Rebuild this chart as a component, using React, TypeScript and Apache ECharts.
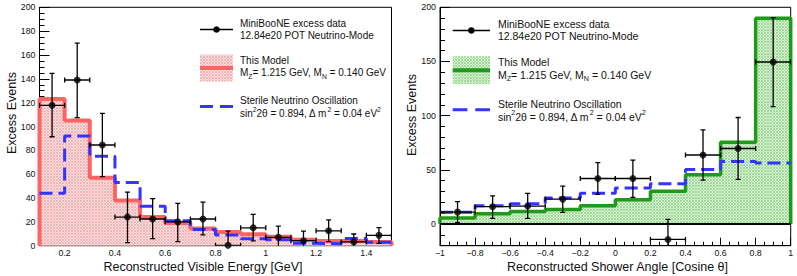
import React, { useEffect, useRef } from "react";
import * as echarts from "echarts";

// ---------- DATA ----------
const energyEdges = [0.1, 0.2, 0.3, 0.4, 0.5, 0.6, 0.7, 0.8, 0.9, 1.0, 1.1, 1.2, 1.3, 1.4, 1.5];
const energyModel = [123, 105, 57, 38, 24, 19, 14.5, 11.5, 9.6, 7.5, 5, 4, 4, 3];
const energySterile = [44, 92, 75, 53, 33, 21, 13.5, 9, 5.8, 5, 2, 1.7, 6, 2.8];
const energyDataX = [0.15, 0.25, 0.35, 0.45, 0.55, 0.65, 0.75, 0.85, 0.95, 1.05, 1.15, 1.25, 1.35, 1.45];
const energyDataY = [117.8, 139, 84.5, 24, 22.4, 20, 22.4, 0.3, 15, 7, 4.2, 12.5, 3.2, 8.7];
const energyDataLo = [91.4, 107.5, 58, 2.5, 6, 3.5, 9, -12, 4, -3, -4, 3.4, -3, 2];
const energyDataHi = [144.5, 170, 111, 45, 39.5, 35.5, 36.5, 12.3, 26.3, 16.5, 12.3, 21.6, 9.8, 15.1];
const energyXErr = 0.05;

const angleEdges = [-1, -0.8, -0.6, -0.4, -0.2, 0, 0.2, 0.4, 0.6, 0.8, 1];
const angleModel = [5.5, 9.5, 11.5, 13.5, 16.8, 22.3, 30.3, 45.4, 75.4, 190];
const angleSterile = [10.8, 16.8, 18.8, 24, 28.3, 33.3, 37.2, 50.3, 57.8, 56.3];
const angleDataX = [-0.9, -0.7, -0.5, -0.3, -0.1, 0.1, 0.3, 0.5, 0.7, 0.9];
const angleDataY = [11, 16, 16.6, 23, 42, 42, -14.2, 63.7, 69.7, 149.5];
const angleDataLo = [1.2, 5.2, 5.2, 10.8, 27.4, 24.6, -33, 40.6, 41.2, 108.3];
const angleDataHi = [20.6, 26, 28.3, 35, 56.6, 59, 4.3, 86.8, 98.3, 190.5];
const angleXErr = 0.1;

// tick values
const energyMajorTicks = [0.2, 0.4, 0.6, 0.8, 1.0, 1.2, 1.4];
const energyMinorStep = 0.05;
const eventsMajorTicksL = [0, 20, 40, 60, 80, 100, 120, 140, 160, 180, 200];
const eventsMinorStepL = 5;
const angleMajorTicks = [-1, -0.8, -0.6, -0.4, -0.2, 0, 0.2, 0.4, 0.6, 0.8, 1];
const angleMinorStep = 0.05;
const eventsMajorTicksR = [0, 50, 100, 150, 200];
const eventsMinorStepR = 10;

const FONT = "'Liberation Sans', Arial, Helvetica, sans-serif";
const TXT = "#111";
const RED = "#ff6464";
const GREEN = "#1f9a1a";
const BLUE = "#3434ff";

function steps(min: number, max: number, step: number): number[] {
  const out: number[] = [];
  const n = Math.round((max - min) / step);
  for (let i = 0; i <= n; i++) out.push(Math.round((min + i * step) * 1000) / 1000);
  return out;
}

function histPoints(edges: number[], vals: number[], closed: boolean): number[][] {
  const pts: number[][] = [];
  if (closed) pts.push([edges[0], 0]);
  vals.forEach((v, i) => pts.push([edges[i], v]));
  pts.push([edges[edges.length - 1], vals[vals.length - 1]]);
  if (closed) pts.push([edges[edges.length - 1], 0]);
  return pts;
}

function makePattern(dark: string, light: string) {
  const c = document.createElement("canvas");
  c.width = 3;
  c.height = 3;
  const ctx = c.getContext("2d")!;
  ctx.fillStyle = dark;
  ctx.fillRect(0, 0, 3, 3);
  ctx.fillStyle = light;
  ctx.fillRect(1, 0, 1, 1);
  ctx.fillRect(0, 1, 1, 1);
  ctx.fillRect(2, 1, 1, 1);
  ctx.fillRect(1, 2, 1, 1);
  return { image: c, repeat: "repeat" } as any;
}

function fmtNum(v: number): string {
  const r = Math.round(v * 100) / 100;
  if (r === 0) return "0";
  return (r < 0 ? "\u2212" : "") + String(Math.abs(r));
}

function errorBarSeries(xIdx: number, yIdx: number, xs: number[], ys: number[], lo: number[], hi: number[], xe: number) {
  return {
    type: "custom",
    xAxisIndex: xIdx,
    yAxisIndex: yIdx,
    clip: true,
    z: 5,
    data: xs.map((x, i) => [x, ys[i], lo[i], hi[i], xe]),
    renderItem: (params: any, api: any) => {
      const x = api.value(0), y = api.value(1), l = api.value(2), h = api.value(3), e = api.value(4);
      const c = api.coord([x, y]);
      const pl = api.coord([x - e, y]);
      const pr = api.coord([x + e, y]);
      const pLo = api.coord([x, l]);
      const pHi = api.coord([x, h]);
      const cap = 2.5;
      const st = { stroke: "#000", lineWidth: 1.3 };
      const ln = (x1: number, y1: number, x2: number, y2: number) => ({ type: "line", shape: { x1, y1, x2, y2 }, style: st });
      return {
        type: "group",
        children: [
          ln(pl[0], c[1], pr[0], c[1]),
          ln(c[0], pLo[1], c[0], pHi[1]),
          ln(pl[0], c[1] - cap, pl[0], c[1] + cap),
          ln(pr[0], c[1] - cap, pr[0], c[1] + cap),
          ln(c[0] - cap, pLo[1], c[0] + cap, pLo[1]),
          ln(c[0] - cap, pHi[1], c[0] + cap, pHi[1]),
        ],
      };
    },
  };
}

function majorX(grid: number, min: number, max: number, ticks: number[]) {
  return {
    type: "value", gridIndex: grid, min, max, position: "bottom",
    axisLine: { show: true, onZero: false, lineStyle: { color: "#000", width: 1 } },
    axisTick: { show: true, inside: true, length: 8, customValues: ticks, lineStyle: { color: "#000", width: 1 } },
    axisLabel: { show: true, customValues: ticks, formatter: fmtNum, fontSize: 8.8, color: TXT, fontFamily: FONT, margin: 3 },
    splitLine: { show: false },
  };
}
function minorX(grid: number, min: number, max: number, ticks: number[]) {
  return {
    type: "value", gridIndex: grid, min, max, position: "bottom",
    axisLine: { show: false, onZero: false },
    axisTick: { show: true, inside: true, length: 4, customValues: ticks, lineStyle: { color: "#000", width: 1 } },
    axisLabel: { show: false },
    splitLine: { show: false },
  };
}
function majorY(grid: number, min: number, max: number, ticks: number[]) {
  return {
    type: "value", gridIndex: grid, min, max, position: "left",
    axisLine: { show: true, onZero: false, lineStyle: { color: "#000", width: 1 } },
    axisTick: { show: true, inside: true, length: 10, customValues: ticks, lineStyle: { color: "#000", width: 1 } },
    axisLabel: { show: true, customValues: ticks, formatter: fmtNum, fontSize: 8.8, color: TXT, fontFamily: FONT, margin: 4 },
    splitLine: { show: false },
  };
}
function minorY(grid: number, min: number, max: number, ticks: number[]) {
  return {
    type: "value", gridIndex: grid, min, max, position: "left",
    axisLine: { show: false, onZero: false },
    axisTick: { show: true, inside: true, length: 5, customValues: ticks, lineStyle: { color: "#000", width: 1 } },
    axisLabel: { show: false },
    splitLine: { show: false },
  };
}

function legend(x0: number, y0: number, fs: number, sx: number, sy: number, fillPat: any, lineColor: string) {
  const w = 33 * sx;
  const tx = x0 + w + 7 * sx;
  const rich = {
    n: { fontSize: fs, fontFamily: FONT, color: TXT, verticalAlign: "top", padding: [2, 0, 0, 0] },
    sub: { fontSize: fs * 0.68, fontFamily: FONT, color: TXT, verticalAlign: "top", padding: [fs * 0.75, 0, 0, 0] },
    sup: { fontSize: fs * 0.68, fontFamily: FONT, color: TXT, verticalAlign: "top", padding: [0, 0, 0, 0] },
  };
  const text = (y: number, t: string) => ({
    type: "text", x: tx, y, style: { text: t, fontSize: fs, fontFamily: FONT, fill: TXT, verticalAlign: "middle", align: "left" },
  });
  const richText = (y: number, t: string) => ({
    type: "text", x: tx, y: y - fs * 0.75, style: { text: t, rich, fontSize: fs, fontFamily: FONT, fill: TXT, align: "left", verticalAlign: "top" },
  });
  const s = sy;
  return [
    { type: "line", shape: { x1: x0, y1: y0 + 6 * s, x2: x0 + w, y2: y0 + 6 * s }, style: { stroke: "#000", lineWidth: 1.3 } },
    { type: "circle", shape: { cx: x0 + w / 2, cy: y0 + 6 * s, r: 3.3 }, style: { fill: "#000" } },
    text(y0, "MiniBooNE excess data"),
    text(y0 + 11.5 * s, "12.84e20 POT Neutrino-Mode"),
    { type: "rect", shape: { x: x0, y: y0 + 31 * s, width: w, height: 27 * s }, style: { fill: fillPat } },
    { type: "line", shape: { x1: x0, y1: y0 + 44.5 * s, x2: x0 + w, y2: y0 + 44.5 * s }, style: { stroke: lineColor, lineWidth: 4 } },
    text(y0 + 37 * s, "This Model"),
    richText(y0 + 49.5 * s, "{n|M}{sub|Z}{n|= 1.215 GeV, M}{sub|N}{n| = 0.140 GeV}"),
    { type: "line", shape: { x1: x0, y1: y0 + 83 * s, x2: x0 + w, y2: y0 + 83 * s }, style: { stroke: BLUE, lineWidth: 3, lineDash: [13 * sx, 7 * sx] } },
    text(y0 + 77 * s, "Sterile Neutrino Oscillation"),
    richText(y0 + 90 * s, "{n|sin}{sup|2}{n|2\u03b8 = 0.894, \u0394 m}{sup|2}{n| = 0.04 eV}{sup|2}"),
  ];
}

export default function App() {
  const ref = useRef<HTMLDivElement>(null);
  useEffect(() => {
    if (!ref.current) return;
    const chart = echarts.init(ref.current, undefined, { renderer: "svg" });
    const redPat = makePattern("#f7b3b3", "#fde4e4");
    const greenPat = makePattern("#9ed996", "#dcf2d8");

    const option: any = {
      animation: false,
      backgroundColor: "#fff",
      grid: [
        { left: 39.5, top: 7.3, width: 352, height: 238.4, show: true, borderColor: "#000", borderWidth: 1, backgroundColor: "transparent" },
        { left: 440, top: 7.3, width: 350.7, height: 238.4, show: true, borderColor: "#000", borderWidth: 1, backgroundColor: "transparent" },
      ],
      xAxis: [
        majorX(0, 0.1, 1.5, energyMajorTicks),
        minorX(0, 0.1, 1.5, steps(0.1, 1.5, energyMinorStep)),
        majorX(1, -1, 1, angleMajorTicks),
        minorX(1, -1, 1, steps(-1, 1, angleMinorStep)),
      ],
      yAxis: [
        majorY(0, 0, 200, eventsMajorTicksL),
        minorY(0, 0, 200, steps(0, 200, eventsMinorStepL)),
        majorY(1, -20, 200, eventsMajorTicksR),
        minorY(1, -20, 200, steps(-20, 200, eventsMinorStepR)),
      ],
      series: [
        {
          type: "line", xAxisIndex: 0, yAxisIndex: 0, step: "end", symbol: "none", clip: false, z: 2,
          data: histPoints(energyEdges, energyModel, true),
          lineStyle: { color: RED, width: 4 },
          areaStyle: { color: redPat, opacity: 1 },
        },
        {
          type: "line", xAxisIndex: 0, yAxisIndex: 0, step: "end", symbol: "none", clip: false, z: 3,
          data: histPoints(energyEdges, energySterile, false),
          lineStyle: { color: BLUE, width: 3, type: [13, 6] },
        },
        errorBarSeries(0, 0, energyDataX, energyDataY, energyDataLo, energyDataHi, energyXErr),
        {
          type: "scatter", xAxisIndex: 0, yAxisIndex: 0, symbolSize: 7, z: 6,
          itemStyle: { color: "#000" },
          data: energyDataX.map((x, i) => [x, energyDataY[i]]),
        },
        {
          type: "line", xAxisIndex: 2, yAxisIndex: 2, step: "end", symbol: "none", clip: false, z: 2,
          data: histPoints(angleEdges, angleModel, true),
          lineStyle: { color: GREEN, width: 3.5 },
          areaStyle: { color: greenPat, opacity: 1 },
        },
        {
          type: "line", xAxisIndex: 2, yAxisIndex: 2, symbol: "none", z: 3,
          data: [[angleEdges[0], 0], [angleEdges[angleEdges.length - 1], 0]],
          lineStyle: { color: "#000", width: 2 },
        },
        {
          type: "line", xAxisIndex: 2, yAxisIndex: 2, step: "end", symbol: "none", clip: false, z: 3,
          data: histPoints(angleEdges, angleSterile, false),
          lineStyle: { color: BLUE, width: 3, type: [13, 6] },
        },
        errorBarSeries(2, 2, angleDataX, angleDataY, angleDataLo, angleDataHi, angleXErr),
        {
          type: "scatter", xAxisIndex: 2, yAxisIndex: 2, symbolSize: 7, z: 6,
          itemStyle: { color: "#000" },
          data: angleDataX.map((x, i) => [x, angleDataY[i]]),
        },
      ],
      graphic: [
        { type: "text", x: 11.5, y: 113, rotation: Math.PI / 2, style: { text: "Excess Events", fontSize: 12.5, fontFamily: FONT, fill: TXT, align: "center", verticalAlign: "middle" } },
        { type: "text", x: 203, y: 266.5, style: { text: "Reconstructed Visible Energy [GeV]", fontSize: 12.5, fontFamily: FONT, fill: TXT, align: "center", verticalAlign: "middle" } },
        { type: "text", x: 412, y: 115, rotation: Math.PI / 2, style: { text: "Excess Events", fontSize: 12.5, fontFamily: FONT, fill: TXT, align: "center", verticalAlign: "middle" } },
        { type: "text", x: 617.5, y: 266.5, style: { text: "Reconstructed Shower Angle [Cosine \u03b8]", fontSize: 12.5, fontFamily: FONT, fill: TXT, align: "center", verticalAlign: "middle" } },
        ...legend(200, 23.5, 10, 1, 1, redPat, RED),
        ...legend(452.7, 24.3, 10.5, 1.13, 1.03, greenPat, GREEN),
      ],
    };
    chart.setOption(option);
    return () => chart.dispose();
  }, []);
  return <div ref={ref} style={{ position: "absolute", left: 0, top: 0, width: 797, height: 276 }} />;
}
